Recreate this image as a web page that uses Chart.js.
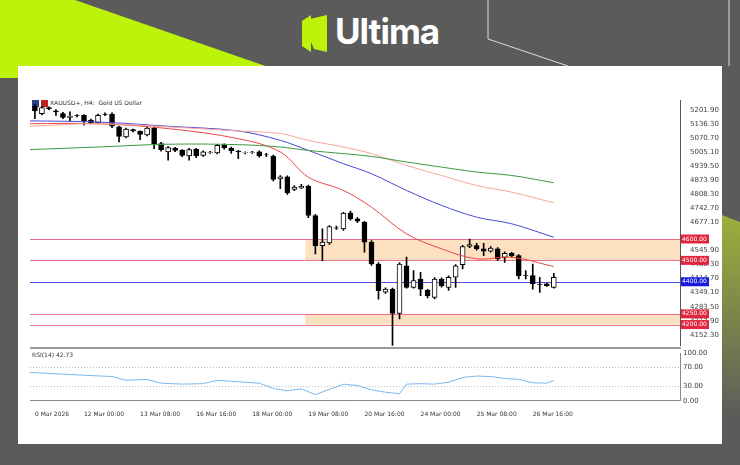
<!DOCTYPE html>
<html>
<head>
<meta charset="utf-8">
<script src="https://cdn.jsdelivr.net/npm/chart.js@4.4.1/dist/chart.umd.min.js"></script>
<style>
  body { margin: 0; width: 740px; height: 465px; background: #5b5b5b; position: relative; overflow: hidden; font-family: "DejaVu Sans", sans-serif; }
  .abs { position: absolute; }
  #lime { left: 0; top: 0; width: 740px; height: 465px; background: #bdf20a; clip-path: polygon(0 0, 75px 0, 300px 78px, 0 78px); }
  #lime2 { left: 0; top: 0; width: 740px; height: 465px; background: linear-gradient(180deg, #bdf20a 0%, #9cb33a 45%, #5b5b5b 90%); clip-path: polygon(722px 215px, 740px 222px, 740px 465px, 722px 465px); }
  #panel { left: 18px; top: 66px; width: 704px; height: 378px; background: #fff; }
  #logo { left: 335px; top: 10px; color: #fff; font: bold 35px "Inter", "Open Sans", sans-serif; letter-spacing: -1px; }
  #icon { left: 302px; top: 15px; width: 25px; height: 37px; background: #bdf20a; clip-path: polygon(0 6px, 9px 0, 9px 37px, 0 31px, 0 6px, 12px 3px, 25px 0, 25px 37px, 12px 34px); }
  #title { left: 32px; top: 99px; font-size: 6px; color: #333; }
  #title b { display: inline-block; width: 7px; height: 7px; background: #2d3f8f; margin-right: 2px; vertical-align: middle; }
</style>
</head>
<body>
<div id="lime" class="abs"></div>
<div id="lime2" class="abs"></div>
<svg class="abs" style="left:0;top:0" width="740" height="465">
  <polyline points="488,0 488,39 568,66" fill="none" stroke="#ddd" stroke-width="1"/>
  <line x1="729" y1="0" x2="729" y2="66" stroke="#ddd" stroke-width="1"/>
</svg>
<div id="icon" class="abs"></div>
<div id="logo" class="abs">Ultima</div>
<div id="panel" class="abs"></div>
<div id="title" class="abs"><b></b><b style="background:#b22"></b>XAUUSD+, H4:&nbsp; Gold US Dollar</div>
<div class="abs" style="left:30px;top:93.5px;width:692px;height:258px"><canvas id="priceChart"></canvas></div>
<div class="abs" style="left:30px;top:347px;width:651px;height:2px;background:#999"></div>
<div class="abs" style="left:30px;top:346px;width:692px;height:74px"><canvas id="rsiChart"></canvas></div>
<div class="abs" style="left:32px;top:351px;font-size:6px;color:#333">RSI(14) 42.73</div>
<script>
"use strict";

// H4 candles
const opens  = [5221,5186,5214,5199,5186,5168,5177,5178,5155,5143,5183,5183,5124,5077,5111,5103,5086,5119,5046,5007,5024,5014,4988,5019,4991,5005,5002,5038,5025,5011,5003,5005,5007,4994,4988,4882,4890,4832,4839,4847,4710,4569,4582,4652,4647,4721,4694,4678,4585,4483,4351,4366,4252,4475,4374,4413,4361,4327,4411,4374,4421,4480,4565,4569,4554,4543,4554,4514,4533,4522,4429,4429,4387,4390,4374];
const closes = [5199,5214,5208,5194,5168,5175,5176,5152,5143,5178,5182,5127,5080,5114,5105,5089,5119,5046,5018,5027,5014,4991,5018,4989,5007,5006,5038,5027,5013,5008,5004,5006,4988,4993,4879,4890,4815,4843,4846,4710,4569,4585,4658,4651,4721,4694,4683,4585,4483,4358,4366,4252,4483,4374,4405,4366,4335,4413,4382,4421,4475,4565,4574,4554,4543,4558,4507,4533,4522,4429,4428,4390,4386,4382,4421];
const highs  = [5228,5220,5218,5205,5192,5194,5182,5182,5160,5184,5190,5190,5128,5118,5114,5106,5124,5124,5052,5032,5028,5018,5024,5024,5012,5010,5043,5045,5030,5014,5008,5010,5012,5000,4992,4896,4895,4850,4855,4852,4715,4647,4663,4660,4725,4730,4700,4682,4592,4490,4372,4370,4490,4515,4452,4444,4365,4420,4418,4428,4480,4570,4600,4580,4580,4565,4560,4540,4538,4527,4452,4483,4421,4393,4440];
const lows   = [5163,5180,5204,5178,5163,5152,5171,5132,5138,5138,5176,5120,5054,5072,5100,5064,5082,5022,5010,4968,5008,4985,4968,4980,4986,5000,4998,5020,5000,4975,4998,5000,4982,4985,4872,4835,4808,4826,4835,4700,4530,4499,4575,4645,4640,4688,4676,4538,4476,4319,4345,4101,4226,4370,4370,4335,4325,4320,4375,4360,4374,4460,4560,4548,4522,4538,4500,4491,4515,4413,4413,4366,4350,4378,4370];

// moving averages, sampled at some candles
const maIdx   = [-0.7, 9, 19, 29, 35, 39, 44, 48, 53, 58, 63, 68, 74];
const maRed   = [5139,5139,5116,5069,5007,4889,4827,4749,4624,4554,4507,4515,4471];
const maBlue  = [5152,5147,5127,5105,5061,5014,4952,4905,4827,4757,4702,4671,4608];
const maPink  = [5127,5139,5124,5105,5093,5061,5030,4999,4944,4897,4850,4819,4769];
const maGreen = [5018,5030,5043,5041,5030,5014,4999,4986,4960,4936,4913,4897,4863];

// RSI(14) sampled at candles
const rsiIdx = [-0.7,0,4,8,11,13,16,18,21,24,26,29,32,34,36,38,40,42,44,46,48,50,52,53,55,57,59,61,63,65,67,69,71,73,74];
const rsiVal = [60,59,56,53,51,43,45,37,35,36,43,40,37,26,21,25,13,24,35,32,23,18,15,35,36,35,39,49,52,51,47,45,38,37,42.73];

const priceTicks = [5201.90,5136.30,5070.70,5005.10,4939.50,4873.90,4808.30,4742.70,4677.10,4545.90,4480.30,4414.70,4349.10,4283.50,4217.90,4152.30];
const rsiTicks = [100, 70, 30, 0];
const levels = [4600, 4500, 4400, 4250, 4200];
const levelColors = ["#e0263e", "#e0263e", "#1a1adf", "#e0263e", "#e0263e"];
const zones = [[4500, 4600], [4200, 4250]];
const zoneStart = 39;
const dateLabels = {0: "0 Mar 2026", 7: "12 Mar 00:00", 15: "13 Mar 08:00", 23: "16 Mar 16:00", 31: "18 Mar 00:00", 39: "19 Mar 08:00", 47: "20 Mar 16:00", 55: "24 Mar 00:00", 63: "25 Mar 08:00", 71: "26 Mar 16:00"};

const xMin = -0.7, xMax = 92;
const pts = (idx, vals) => idx.map((k, j) => ({x: k, y: vals[j]}));
const tinyFont = {family: "DejaVu Sans", size: 7};

const levelPlugin = {
    id: "levels",
    beforeDatasetsDraw(chart) {
        const {ctx, chartArea, scales} = chart;
        const x0 = scales.x.getPixelForValue(zoneStart) - 3;
        ctx.save();
        ctx.fillStyle = "rgba(252,214,170,0.75)";
        zones.forEach(([lo, hi]) => {
            const yt = scales.y.getPixelForValue(hi), yb = scales.y.getPixelForValue(lo);
            ctx.fillRect(x0, yt, chartArea.right - x0, yb - yt);
        });
        levels.forEach((v, i) => {
            const y = Math.round(scales.y.getPixelForValue(v)) + 0.5;
            ctx.strokeStyle = i === 2 ? "#4a4ae0" : "#e8708a";
            ctx.lineWidth = 1;
            ctx.beginPath(); ctx.moveTo(chartArea.left, y); ctx.lineTo(chartArea.right, y); ctx.stroke();
        });
        ctx.restore();
    },
    afterDraw(chart) {
        const {ctx, chartArea, scales} = chart;
        ctx.save();
        ctx.font = "6px DejaVu Sans";
        ctx.textBaseline = "middle";
        levels.forEach((v, i) => {
            const y = scales.y.getPixelForValue(v);
            ctx.fillStyle = levelColors[i];
            ctx.fillRect(chartArea.right + 1, y - 4.5, 28, 9);
            ctx.fillStyle = "#fff";
            ctx.fillText(v.toFixed(2), chartArea.right + 2, y);
        });
        ctx.restore();
    }
};

const renderPrice = () => {
    const up = closes.map((c, i) => c >= opens[i]);
    const maLine = (idx, vals, color) => ({
        type: "line", data: pts(idx, vals), borderColor: color, borderWidth: 1, pointRadius: 0,
        tension: 0.35, order: 0
    });
    new Chart(document.getElementById("priceChart"), {
        type: "bar",
        data: {
            datasets: [
                maLine(maIdx, maGreen, "#3c9a3c"),
                maLine(maIdx, maPink, "#f5a89a"),
                maLine(maIdx, maBlue, "#4848d8"),
                maLine(maIdx, maRed, "#e84848"),
                {
                    data: opens.map((o, i) => ({x: i, y: [lows[i], highs[i]]})),
                    backgroundColor: "#000", barThickness: 1, grouped: false, order: 2
                },
                {
                    data: opens.map((o, i) => ({x: i, y: [o, closes[i]]})),
                    backgroundColor: up.map(u => u ? "#fff" : "#000"),
                    borderColor: "#000", borderWidth: 1, borderSkipped: false,
                    barThickness: 5, grouped: false, order: 1
                }
            ]
        },
        options: {
            responsive: true, maintainAspectRatio: false, animation: false,
            layout: {padding: 0},
            plugins: {legend: {display: false}, tooltip: {enabled: false}},
            scales: {
                x: {type: "linear", display: false, offset: false, min: xMin, max: xMax},
                y: {
                    position: "right", min: 4100.7, max: 5248.8,
                    grid: {display: false},
                    border: {display: true, color: "#555"},
                    afterBuildTicks: scale => { scale.ticks = priceTicks.map(v => ({value: v})); },
                    afterFit: scale => { scale.width = 42; },
                    ticks: {font: tinyFont, color: "#444", padding: 2, callback: v => v.toFixed(2)}
                }
            }
        },
        plugins: [levelPlugin]
    });
};

const renderRsi = () => {
    new Chart(document.getElementById("rsiChart"), {
        type: "line",
        data: {
            datasets: [{
                data: pts(rsiIdx, rsiVal), borderColor: "#7db8ec", borderWidth: 1, pointRadius: 0
            }]
        },
        options: {
            responsive: true, maintainAspectRatio: false, animation: false,
            layout: {padding: 0},
            plugins: {legend: {display: false}, tooltip: {enabled: false}},
            scales: {
                x: {
                    type: "linear", offset: false, min: xMin, max: xMax,
                    grid: {display: false}, border: {display: true, color: "#888"},
                    afterBuildTicks: scale => { scale.ticks = Object.keys(dateLabels).map(k => ({value: +k})); },
                    ticks: {
                        font: {family: "DejaVu Sans", size: 6}, color: "#333", autoSkip: false,
                        maxRotation: 0, align: "start", padding: 2,
                        callback: v => dateLabels[v] || ""
                    }
                },
                y: {
                    position: "right", min: 0, max: 100,
                    grid: {
                        drawTicks: false,
                        color: ctx => [30, 70].includes(ctx.tick.value) ? "#bbb" : "transparent"
                    },
                    border: {display: true, color: "#888", dash: [1, 2]},
                    afterBuildTicks: scale => { scale.ticks = rsiTicks.map(v => ({value: v})); },
                    afterFit: scale => { scale.width = 42; },
                    ticks: {font: tinyFont, color: "#444", padding: 3, callback: v => v.toFixed(2)}
                }
            }
        }
    });
};

document.addEventListener("DOMContentLoaded", () => {
    renderPrice();
    renderRsi();
});
</script>
</body>
</html>
